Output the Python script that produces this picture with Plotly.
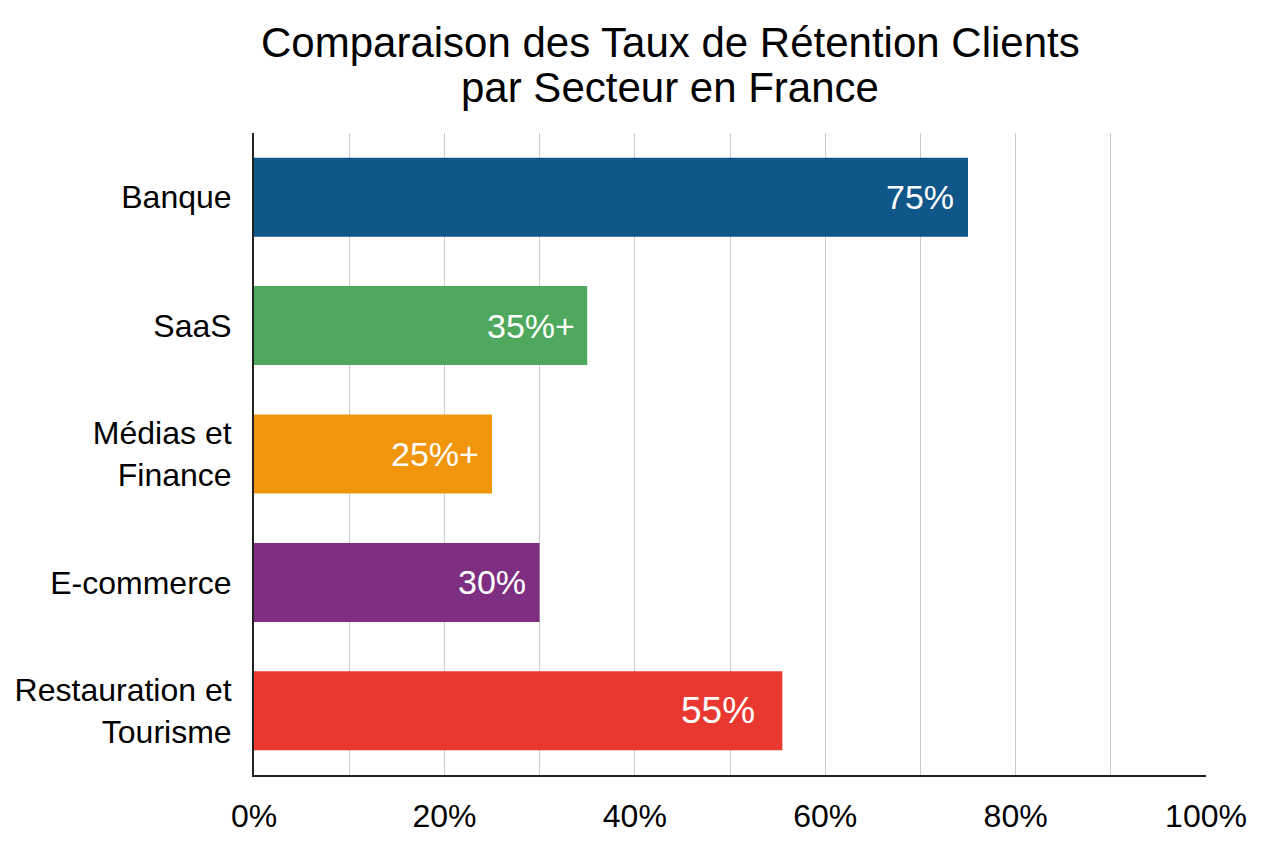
import plotly.graph_objects as go

categories = ["Banque", "SaaS", "Médias et<br>Finance", "E-commerce", "Restauration et<br>Tourisme"]
values = [75, 35, 25, 30, 55.5]
labels = ["75%", "35%+", "25%+", "30%", "55%"]
label_sizes = [34, 34, 34, 34, 37]
label_shift = [-12, -10, -11, -12, -25]
colors = ["#0f5689", "#4ea95e", "#f0950c", "#7e2f82", "#e8382f"]
x_ticks = [0, 20, 40, 60, 80, 100]
x_tick_text = ["0%", "20%", "40%", "60%", "80%", "100%"]
title_lines = ["Comparaison des Taux de Rétention Clients", "par Secteur en France"]

FONT = "Liberation Sans"

fig = go.Figure()
fig.add_trace(go.Bar(
    y=categories, x=values, orientation="h",
    marker=dict(color=colors, line=dict(width=0)),
    hoverinfo="skip",
))

for c, v, t, s, dx in zip(categories, values, labels, label_sizes, label_shift):
    fig.add_annotation(x=v, y=c, text=t, showarrow=False, xanchor="right",
                       xshift=dx, font=dict(color="white", size=s, family=FONT))

for line, yy in zip(title_lines, [1.1417, 1.0701]):
    fig.add_annotation(xref="paper", yref="paper", x=0.437, y=yy, text=line,
                       showarrow=False, xanchor="center", yanchor="middle",
                       font=dict(size=42, color="black", family=FONT))

fig.update_layout(
    width=1264, height=848,
    paper_bgcolor="white", plot_bgcolor="white",
    margin=dict(l=254, r=58, t=133, b=73),
    bargap=0.385,
    showlegend=False,
    font=dict(family=FONT, color="black"),
)
fig.update_xaxes(range=[0, 100], tickvals=x_ticks, ticktext=x_tick_text,
                 showgrid=True, gridcolor="#cccccc", gridwidth=1,
                 minor=dict(dtick=10, showgrid=True, gridcolor="#cccccc", gridwidth=1),
                 showline=True, linecolor="#222222", linewidth=2,
                 ticks="", ticklabelstandoff=12, zeroline=False,
                 tickfont=dict(size=32, color="black"))
fig.update_yaxes(categoryorder="array", categoryarray=categories[::-1],
                 showline=True, linecolor="#222222", linewidth=2,
                 showgrid=False, ticks="", ticklabelstandoff=14,
                 tickfont=dict(size=32, color="black"))

fig.write_html("out.html")
